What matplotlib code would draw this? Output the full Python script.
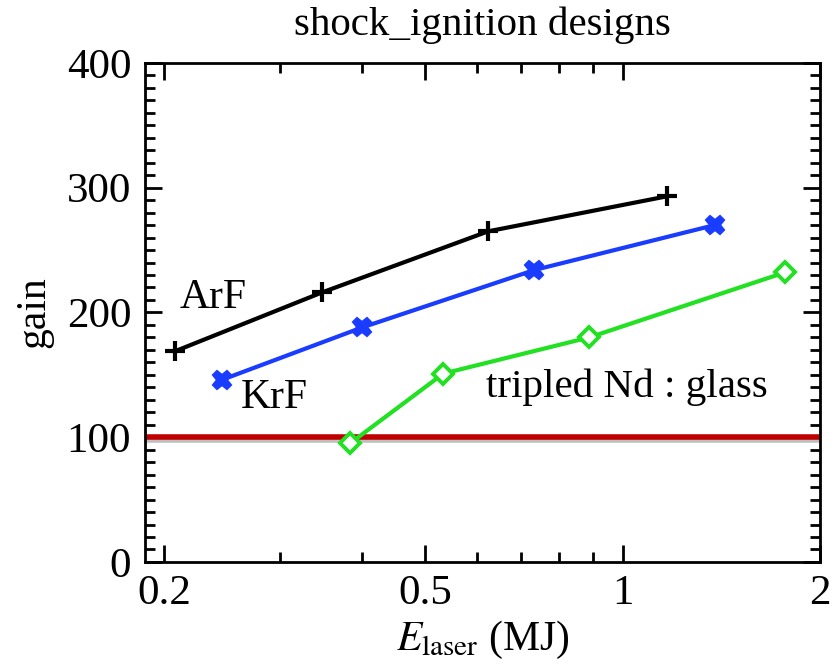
import matplotlib
matplotlib.use("Agg")
import matplotlib.pyplot as plt
import matplotlib.ticker as mticker
import matplotlib.patheffects as pe

plt.rcParams['font.family'] = ['Liberation Serif', 'DejaVu Serif']
plt.rcParams['mathtext.fontset'] = 'stix'

# Data
arf_x = [0.208, 0.348, 0.624, 1.167]
arf_y = [169, 216, 265, 293]
krf_x = [0.245, 0.401, 0.734, 1.382]
krf_y = [146, 188, 234, 270]
nd_x = [0.384, 0.533, 0.890, 1.767]
nd_y = [95, 151, 180, 232]
threshold = 100

x_major = [0.2, 0.5, 1, 2]
x_major_labels = ['0.2', '0.5', '1', '2']
y_major = [0, 100, 200, 300, 400]

fig = plt.figure(figsize=(8.35, 6.69), dpi=100)
ax = fig.add_axes([0.1737, 0.160, 0.8083, 0.746])

ax.set_xscale('log')
ax.set_xlim(0.187, 2.0)
ax.set_ylim(0, 400)

ax.axhline(threshold, color='#c00000', lw=4, zorder=2,
           path_effects=[pe.SimpleLineShadow(offset=(0, -2), shadow_color='gray', alpha=0.5), pe.Normal()])

ax.plot(arf_x, arf_y, color='black', lw=3, marker='+', ms=15, mew=3, zorder=3)
ax.plot(krf_x, krf_y, color='#1a3cff', lw=3, marker='X', ms=13, mew=1.5, zorder=3)
ax.plot(nd_x, nd_y, color='#22e022', lw=3, marker='D', ms=10, mew=2.8, mfc='white', zorder=3)

ax.text(0.211, 212, 'ArF', fontsize=30, ha='left', va='center')
ax.text(0.262, 132, 'KrF', fontsize=30, ha='left', va='center')
ax.text(0.620, 140, 'tripled Nd : glass', fontsize=29.5, ha='left', va='center')

ax.set_xticks(x_major)
ax.set_xticklabels(x_major_labels)
ax.xaxis.set_minor_locator(mticker.FixedLocator([0.3, 0.4, 0.6, 0.7, 0.8, 0.9]))
ax.xaxis.set_minor_formatter(mticker.NullFormatter())
ax.set_yticks(y_major)
ax.yaxis.set_minor_locator(mticker.MultipleLocator(10))

ax.tick_params(which='both', direction='in', top=True, right=True, width=2)
ax.tick_params(which='major', length=12, labelsize=31)
ax.tick_params(which='minor', length=7)
ax.tick_params(axis='x', which='major', pad=9)
ax.tick_params(axis='y', which='major', pad=10)
for s in ax.spines.values():
    s.set_linewidth(2)

ax.set_title('shock_ignition designs', fontsize=29.5, pad=20)
ax.set_ylabel('gain', fontsize=30, labelpad=10)
ax.set_xlabel(r'$E_{\mathrm{laser}}$ (MJ)', fontsize=30, labelpad=4)

fig.savefig('out.png', dpi=100)
